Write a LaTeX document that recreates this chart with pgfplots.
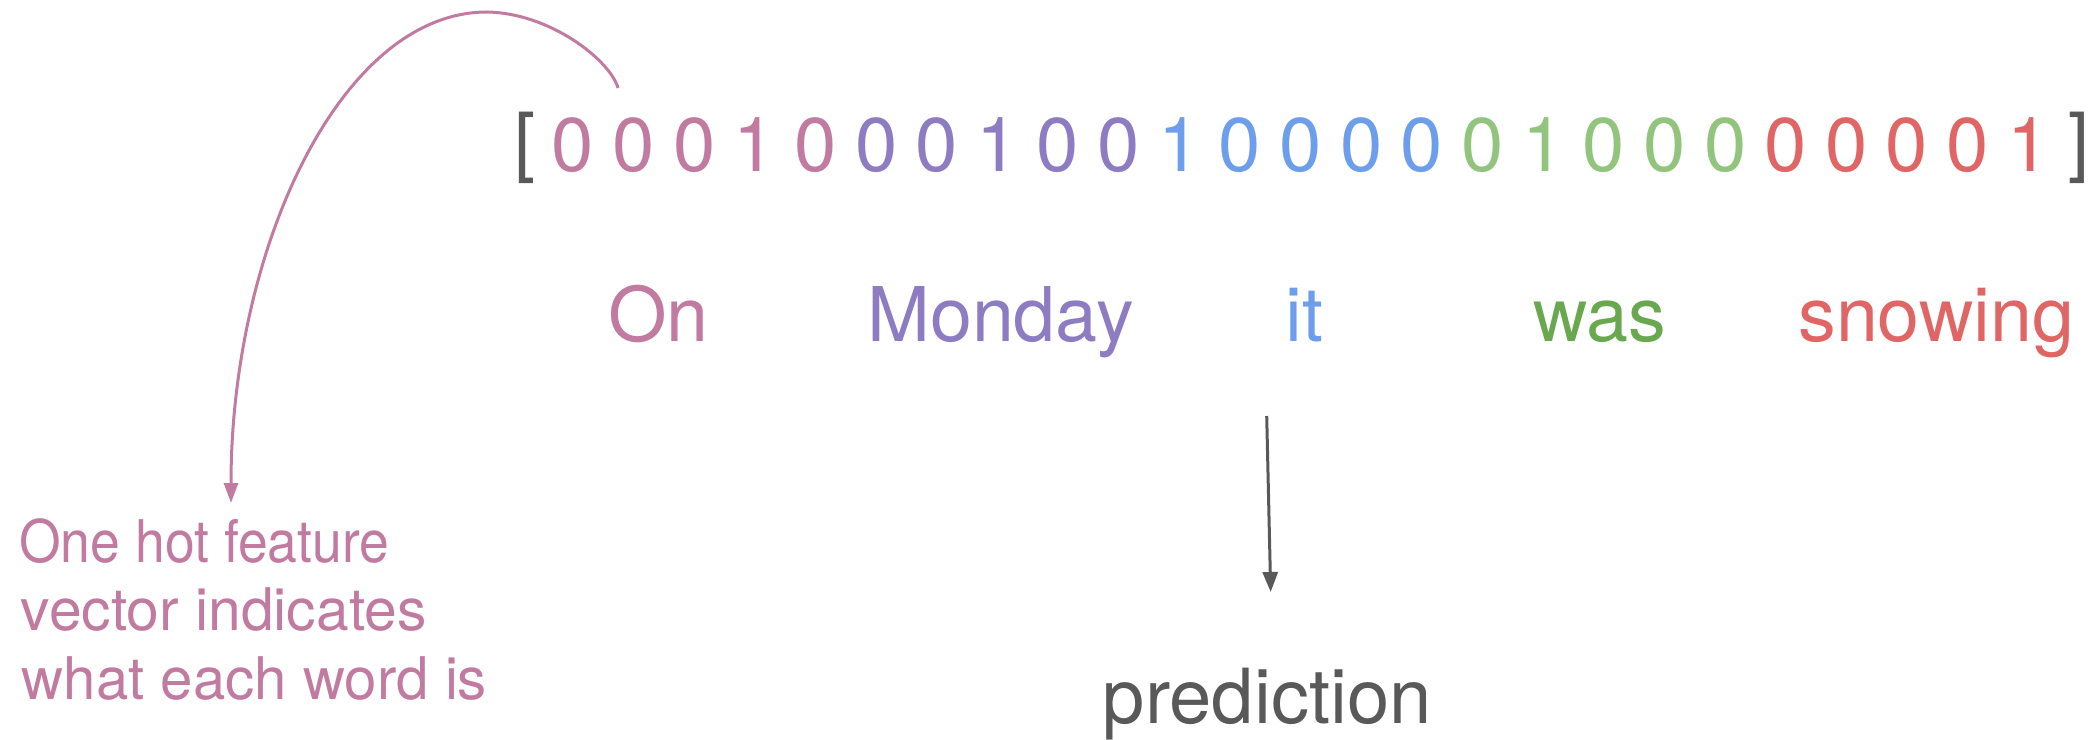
\documentclass[border=0pt]{standalone}
\usepackage{pgfplots}
\pgfplotsset{compat=1.18}
\usepackage{fontspec}
\usepackage{graphicx}
\usetikzlibrary{arrows.meta}
\setmainfont{TeX Gyre Heros}
\definecolor{cpink}{HTML}{C27BA0}
\definecolor{cpurple}{HTML}{8E7CC3}
\definecolor{cblue}{HTML}{6D9EEB}
\definecolor{cgreen}{HTML}{93C47D}
\definecolor{cgreenw}{HTML}{6AA84F}
\definecolor{cred}{HTML}{E06666}
\definecolor{cgray}{HTML}{595959}
\newcommand{\bigfont}{\fontsize{19}{23}\selectfont}
\newcommand{\wfont}{\fontsize{18.85}{23}\selectfont}
\newcommand{\nfont}{\fontsize{14.7}{17}\selectfont}
\pgfplotsset{
  digits/.style={draw=none, mark=none, nodes near coords, point meta=explicit symbolic,
    every node near coord/.append style={anchor=base, inner sep=0pt, text=#1,
      font=\bigfont}},
}
\begin{document}
\begin{tikzpicture}
\begin{axis}[width=524.5pt, height=184.75pt, scale only axis,
  xmin=0, xmax=2098, ymin=0, ymax=739, y dir=reverse,
  hide axis, clip=false]
\path (rel axis cs:0,0) rectangle (rel axis cs:1,1);
% one-hot vector, one series per word block
\addplot[digits=cpink] table[meta=d] {
x y d
573 172 0
633.6 172 0
694.3 172 0
754.9 172 1
815.6 172 0
};
\addplot[digits=cpurple] table[meta=d] {
x y d
876.2 172 0
936.8 172 0
997.5 172 1
1058.1 172 0
1118.8 172 0
};
\addplot[digits=cblue] table[meta=d] {
x y d
1179.4 172 1
1240 172 0
1300.7 172 0
1361.3 172 0
1422 172 0
};
\addplot[digits=cgreen] table[meta=d] {
x y d
1482.6 172 0
1543.2 172 1
1603.9 172 0
1664.5 172 0
1725.2 172 0
};
\addplot[digits=cred] table[meta=d] {
x y d
1785.8 172 0
1846.4 172 0
1907.1 172 0
1967.7 172 0
2028.4 172 1
};
% brackets
\node[anchor=base west, inner sep=0pt, text=cgray, font=\bigfont] at (axis cs:514,168) {[};
\node[anchor=base west, inner sep=0pt, text=cgray, font=\bigfont] at (axis cs:2068,168) {]};
% words
\node[anchor=base west, inner sep=0pt, text=cpink, font=\wfont] at (axis cs:607.5,341) {On};
\node[anchor=base west, inner sep=0pt, text=cpurple, font=\wfont] at (axis cs:866.5,341) {Monday};
\node[anchor=base west, inner sep=0pt, text=cblue, font=\wfont] at (axis cs:1285,341) {it};
\node[anchor=base west, inner sep=0pt, text=cgreenw, font=\wfont] at (axis cs:1532.5,341) {was};
\node[anchor=base west, inner sep=0pt, text=cred, font=\wfont] at (axis cs:1797.5,341) {snowing};
% prediction arrow
\addplot[cgray, line width=0.75pt, -{Triangle[length=5pt, width=3.75pt]}] coordinates {(1266.7,416) (1270.7,592)};
\node[anchor=base west, inner sep=0pt, text=cgray, font=\bigfont] at (axis cs:1102,723) {prediction};
% annotation curve
\draw[cpink, line width=0.75pt, -{Triangle[length=5pt, width=3.5pt]}]
  (axis cs:618,88) .. controls (axis cs:610,60) and (axis cs:550,13) .. (axis cs:487,12)
  .. controls (axis cs:340,12) and (axis cs:231,250) .. (axis cs:231,503);
\node[anchor=base west, inner sep=0pt, text=cpink, font=\nfont] at (axis cs:18.5,562) {\scalebox{0.91}[1]{One hot feature}};
\node[anchor=base west, inner sep=0pt, text=cpink, font=\nfont] at (axis cs:20,630) {vector indicates};
\node[anchor=base west, inner sep=0pt, text=cpink, font=\nfont] at (axis cs:21,699) {\scalebox{0.99}[1]{what each word is}};
\end{axis}
\end{tikzpicture}
\end{document}
